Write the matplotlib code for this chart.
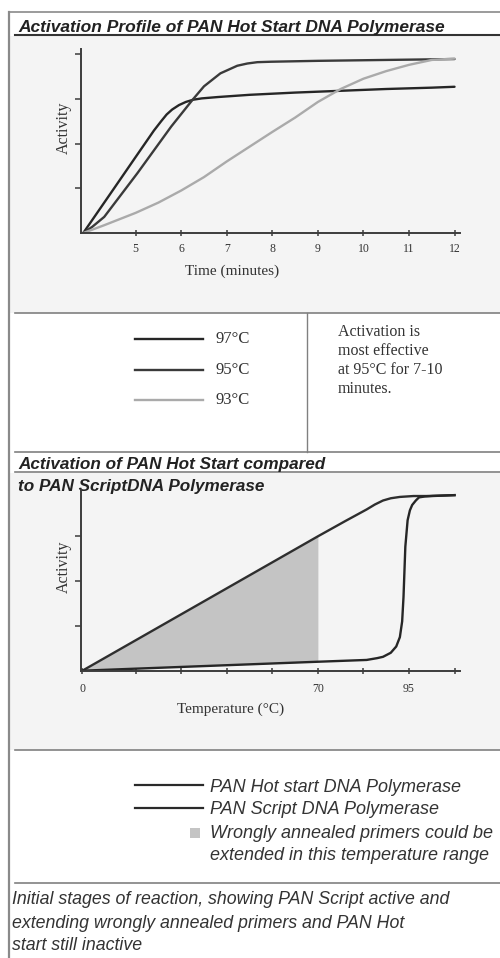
import matplotlib.pyplot as plt
from matplotlib.patches import Rectangle

# panel 1 : activation profile, time in minutes
t97 = [3.85, 4.5, 5.0, 5.4, 5.56, 5.68, 5.8, 5.95, 6.1, 6.26, 6.45, 6.8, 7.5, 8.5, 9.5, 10.5, 11.5, 12.0]
a97 = [0.0, 0.96, 1.70, 2.29, 2.50, 2.65, 2.76, 2.86, 2.93, 2.98, 3.01, 3.04, 3.09, 3.14, 3.18, 3.22, 3.25, 3.27]
t95 = [3.85, 4.05, 4.31, 5.04, 5.78, 6.25, 6.5, 6.86, 7.23, 7.45, 7.67, 7.97, 9.0, 10.5, 12.0]
a95 = [0.0, 0.14, 0.36, 1.34, 2.38, 2.98, 3.28, 3.57, 3.74, 3.79, 3.82, 3.83, 3.85, 3.87, 3.89]
t93 = [3.85, 4.3, 5.0, 5.5, 6.0, 6.5, 7.0, 7.5, 8.0, 8.5, 9.0, 9.5, 10.0, 10.5, 11.0, 11.5, 12.0]
a93 = [0.0, 0.17, 0.45, 0.68, 0.95, 1.25, 1.60, 1.93, 2.26, 2.58, 2.93, 3.22, 3.45, 3.62, 3.76, 3.87, 3.90]
time_ticks = [5, 6, 7, 8, 9, 10, 11, 12]
legend1 = ['97°C', '95°C', '93°C']
colors1 = ['#262626', '#3a3a3a', '#aaaaaa']

# panel 2 : hot start vs script, temperature axis (axis positions)
script_x = [3.83, 9.0, 9.6, 10.07, 10.25, 10.43, 10.6, 10.8, 11.1, 11.38, 12.0]
script_y = [0.0, 3.0, 3.34, 3.6, 3.71, 3.8, 3.85, 3.88, 3.9, 3.9, 3.92]
hot_x = [3.83, 9.0, 10.07, 10.3, 10.43, 10.6, 10.72, 10.8, 10.85, 10.88, 10.92,
         10.97, 11.02, 11.07, 11.15, 11.22, 11.35, 11.51, 12.0]
hot_y = [0.0, 0.2, 0.24, 0.28, 0.31, 0.4, 0.54, 0.75, 1.1, 1.65, 2.77,
         3.36, 3.58, 3.7, 3.8, 3.87, 3.89, 3.9, 3.92]
temp_ticks = [3.83, 5, 6, 7, 8, 9, 10, 11, 12]
temp_labels = ['0', '', '', '', '', '70', '', '95', '']
legend2 = ['PAN Hot start DNA Polymerase', 'PAN Script DNA Polymerase']

serif = 'Liberation Serif'
sans = 'Liberation Sans'
axcol = '#3c3c3c'

fig = plt.figure(figsize=(5, 9.58), dpi=100)

# background layer in pixel coordinates
bg = fig.add_axes([0, 0, 1, 1], zorder=0)
bg.set_xlim(0, 500)
bg.set_ylim(958, 0)
bg.axis('off')
bg.add_patch(Rectangle((10, 36), 490, 277, color='#f4f4f4', lw=0))
bg.add_patch(Rectangle((10, 473), 490, 277, color='#f4f4f4', lw=0))
bg.plot([8.5, 8.5], [12, 958], color='#8a8a8a', lw=1.6)
bg.plot([8.5, 500], [12, 12], color='#8a8a8a', lw=1.2)
bg.plot([15, 500], [34.5, 34.5], color='#333333', lw=1.5)
for yy in [313, 452, 472, 750, 883]:
    bg.plot([15, 500], [yy, yy], color='#808080', lw=1.2)
bg.plot([307, 307], [313, 452], color='#808080', lw=1.0)

bg.text(18, 27, 'Activation Profile of PAN Hot Start DNA Polymerase', fontsize=12.5,
        family=sans, weight='bold', style='italic', color='#222222', va='center')
bg.text(18, 464, 'Activation of PAN Hot Start compared', fontsize=12.3,
        family=sans, weight='bold', style='italic', color='#222222', va='center')
bg.text(18, 486, 'to PAN ScriptDNA Polymerase', fontsize=12.3,
        family=sans, weight='bold', style='italic', color='#222222', va='center')

# legend 1
for yy, lab, c in zip([339, 370, 400], legend1, colors1):
    bg.plot([135, 203], [yy, yy], color=c, lw=1.7)
    bg.text(215, yy, lab, fontsize=12, family=serif, color='#333333', va='center')
for yy, s in zip([332, 351, 370, 389],
                 ['Activation is', 'most effective', 'at 95°C for 7-10', 'minutes.']):
    bg.text(338, yy, s, fontsize=11.5, family=serif, color='#333333', va='center')

# legend 2
for yy, lab in zip([785, 808], legend2):
    bg.plot([135, 203], [yy, yy], color='#2a2a2a', lw=1.6)
    bg.text(210, yy + 2, lab, fontsize=13, family=sans, style='italic', color='#333333', va='center')
bg.add_patch(Rectangle((190, 828), 10, 10, color='#c4c4c4', lw=0))
bg.text(210, 833, 'Wrongly annealed primers could be', fontsize=13, family=sans,
        style='italic', color='#333333', va='center')
bg.text(210, 855, 'extended in this temperature range', fontsize=13, family=sans,
        style='italic', color='#333333', va='center')

for yy, s in zip([900, 923, 945],
                 ['Initial stages of reaction, showing PAN Script active and',
                  'extending wrongly annealed primers and PAN Hot',
                  'start still inactive']):
    bg.text(12, yy, s, fontsize=12.8, family=sans, style='italic', color='#333333', va='center')


def style_axes(ax, top):
    ax.set_facecolor('none')
    for side in ['top', 'right']:
        ax.spines[side].set_visible(False)
    for side in ['left', 'bottom']:
        ax.spines[side].set_color(axcol)
        ax.spines[side].set_linewidth(1.4)
    ax.set_xlim(3.8, 12.12)
    ax.set_ylim(0, top)
    ax.tick_params(axis='x', direction='inout', length=5, width=1.1, color=axcol,
                   labelsize=8.5, labelcolor='#333333')
    ax.tick_params(axis='y', direction='out', length=4, width=1.1, color=axcol, labelleft=False)
    for lab in ax.get_xticklabels():
        lab.set_family(serif)


# panel 1
ax1 = fig.add_axes([0.162, 0.7568, 0.758, 0.1923], zorder=1)
for t, a, c in zip([t97, t95, t93], [a97, a95, a93], colors1):
    ax1.plot(t, a, color=c, lw=1.7, solid_capstyle='round')
ax1.set_xticks(time_ticks)
ax1.set_xticklabels([str(v) for v in time_ticks])
ax1.set_yticks([1, 2, 3, 4])
style_axes(ax1, 4.12)
ax1.tick_params(axis='x', pad=4.5)
ax1.set_xlabel('Time (minutes)', fontsize=11, family=serif, color='#333333')
ax1.xaxis.set_label_coords(0.398, -0.173)
ax1.set_ylabel('Activity', fontsize=11.5, family=serif, color='#333333')
ax1.yaxis.set_label_coords(-0.024, 0.573)

# panel 2
ax2 = fig.add_axes([0.162, 0.2999, 0.758, 0.1884], zorder=1)
ax2.fill_between(script_x[:2], hot_y[:2], script_y[:2], color='#c4c4c4', lw=0)
ax2.plot(script_x, script_y, color='#2e2e2e', lw=1.7)
ax2.plot(hot_x, hot_y, color='#262626', lw=1.7)
ax2.set_xticks(temp_ticks)
ax2.set_xticklabels(temp_labels)
ax2.set_yticks([1, 2, 3])
style_axes(ax2, 4.03)
ax2.tick_params(axis='x', pad=6.5)
ax2.set_xlabel('Temperature (°C)', fontsize=11, family=serif, color='#333333')
ax2.xaxis.set_label_coords(0.395, -0.177)
ax2.set_ylabel('Activity', fontsize=11.5, family=serif, color='#333333')
ax2.yaxis.set_label_coords(-0.024, 0.577)

fig.savefig('out.png', dpi=100, facecolor='white')
